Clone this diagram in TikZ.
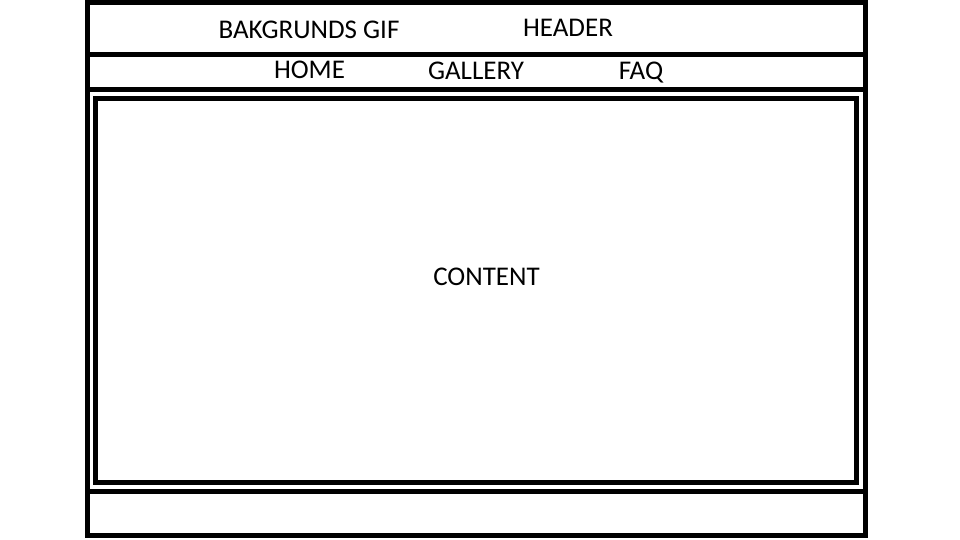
\documentclass[tikz,border=0pt]{standalone}
\usepackage{fontspec}
\setmainfont{Carlito}
\usepackage{tikz}

\begin{document}
\begin{tikzpicture}[x=1pt, y=-1pt]
    % Define styles for frames and labels
    \tikzstyle{frame}=[draw, line width=5pt]
    \tikzstyle{label}=[anchor=base, inner sep=0pt, font=\fontsize{27}{31}\selectfont]

    \useasboundingbox (0,0) rectangle (960,540);

    % Page frame and dividers
    \draw[frame] (87.5,2.5) rectangle (865.5,535.5);
    \draw[frame] (87.5,54.5) -- (865.5,54.5);
    \draw[frame] (87.5,89.5) -- (865.5,89.5);
    \draw[frame] (87.5,491.5) -- (865.5,491.5);

    % Content box
    \draw[frame] (95.5,98.5) rectangle (856.5,482.5);

    % Header row
    \node[label] (gif) at (309,38.5) {BAKGRUNDS GIF};
    \node[label] (header) at (568,37) {HEADER};

    % Menu row
    \node[label] (home) at (309.5,78.5) {HOME};
    \node[label] (gallery) at (476,79.5) {GALLERY};
    \node[label] (faq) at (641,80) {FAQ};

    % Content
    \node[label] (content) at (486.5,285.5) {CONTENT};

\end{tikzpicture}
\end{document}
